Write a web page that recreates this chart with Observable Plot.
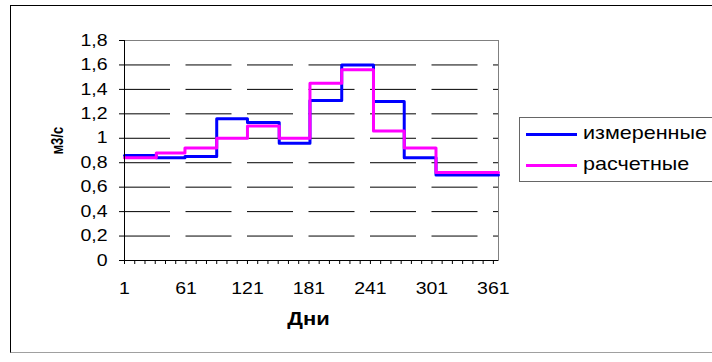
<!DOCTYPE html>
<html>
<head>
<meta charset="utf-8">
<script src="https://cdn.jsdelivr.net/npm/d3@7"></script>
<script src="https://cdn.jsdelivr.net/npm/@observablehq/plot@0.6"></script>
<style>
  body { margin: 0; background: #fff; font-family: "Liberation Sans", Arial, sans-serif; }
  #wrap { position: relative; width: 712px; height: 362px; overflow: hidden; }
  #border { position: absolute; left: 10px; top: 5px; width: 740px; height: 346px;
            border-top: 1px solid #000; border-left: 1px solid #000; border-bottom: 1px solid #a0a0a0; }
  #chart { position: absolute; left: 0; top: 0; }
  #legend { position: absolute; left: 519px; top: 117px; width: 240px; height: 63px;
            border: 1px solid #666; background: #fff; }
  .row { position: absolute; left: 0; height: 20px; }
  .swatch { position: absolute; left: 6px; width: 51px; height: 3px; }
  .label { position: absolute; left: 63px; font-size: 19px; line-height: 20px;
           white-space: nowrap; color: #000; transform-origin: 0 50%; }
</style>
</head>
<body>
<div id="wrap">
  <div id="border"></div>
  <div id="chart"></div>
  <div id="legend"></div>
</div>
<script>
// Monthly mean discharge over one year (m³/s), days 1–365
const monthStart = [1, 32, 60, 91, 121, 152, 182, 213, 244, 274, 305, 335];
const yearEnd = 366;
const measured = [0.86, 0.84, 0.85, 1.16, 1.13, 0.96, 1.31, 1.60, 1.30, 0.84, 0.70, 0.70];
const computed = [0.84, 0.88, 0.92, 1.00, 1.10, 1.00, 1.45, 1.56, 1.06, 0.92, 0.72, 0.72];
const seriesNames = ["измеренные", "расчетные"];
const seriesColors = ["#0000ff", "#ff00ff"];
const dayTicks = [1, 61, 121, 181, 241, 301, 361];
const flowTicks = [0, 0.2, 0.4, 0.6, 0.8, 1, 1.2, 1.4, 1.6, 1.8];
const yLabel = "м3/с";
const xLabel = "Дни";

// each monthly value holds until the next month starts
const steps = vals => monthStart.map((d, i) => ({day: d, q: vals[i]}))
  .concat([{day: yearEnd, q: vals[vals.length - 1]}]);

const fmt = d => String(Math.round(d * 10) / 10).replace(".", ",");
const minorTicks = d3.range(1, yearEnd + 1, 10);
const gridTicks = flowTicks.filter(v => v > 0 && v < 1.8);

const chart = Plot.plot({
  width: 712,
  height: 362,
  marginLeft: 124,
  marginRight: 214,
  marginTop: 40,
  marginBottom: 102,
  x: {domain: [1, yearEnd]},
  y: {domain: [0, 1.8]},
  style: {fontFamily: "'Liberation Sans', Arial, sans-serif", fontSize: "16px", background: "transparent", color: "#000"},
  marks: [
    Plot.ruleY(gridTicks, {stroke: "#000", strokeWidth: 1, strokeDasharray: "46,15.5"}),
    Plot.frame({stroke: "#808080"}),
    Plot.line(steps(measured), {x: "day", y: "q", curve: "step-after", stroke: seriesColors[0], strokeWidth: 3}),
    Plot.line(steps(computed), {x: "day", y: "q", curve: "step-after", stroke: seriesColors[1], strokeWidth: 3}),
    Plot.ruleX([1], {stroke: "#000"}),
    Plot.ruleY([0], {stroke: "#000"}),
    Plot.axisY({ticks: flowTicks, tickSize: 5, tickPadding: 12, tickFormat: fmt, label: null, stroke: "#000", fontSize: 16}),
    Plot.axisX({ticks: minorTicks, tickSize: 4, tickFormat: () => "", label: null, stroke: "#000"}),
    Plot.axisX({ticks: dayTicks, tickSize: 0, tickPadding: 22, tickFormat: d => String(d), label: null, fontSize: 16}),
    Plot.text([xLabel], {frameAnchor: "bottom", dx: -3, dy: 64, fontWeight: "bold", fontSize: 18}),
    Plot.text([yLabel], {frameAnchor: "left", dx: -67, dy: 4, rotate: -90, fontWeight: "bold", fontSize: 13})
  ]
});

// the chart's lettering is set wide: stretch every label horizontally about its anchor
const widen = "scale(1.22,1)";
chart.querySelectorAll("text").forEach(t => {
  let tr = t.getAttribute("transform");
  if (!tr) {
    const x = +(t.getAttribute("x") || 0), y = +(t.getAttribute("y") || 0);
    t.removeAttribute("x"); t.removeAttribute("y");
    tr = `translate(${x},${y})`;
  }
  tr = tr.includes("rotate") ? tr.replace("rotate", widen + " rotate") : tr + " " + widen;
  t.setAttribute("transform", tr);
});
document.getElementById("chart").appendChild(chart);

// legend: entries share one horizontal stretch so the longer name spans 124px
const legend = document.getElementById("legend");
const labels = seriesNames.map((name, i) => {
  const row = document.createElement("div");
  row.className = "row";
  row.style.top = (6 + i * 31) + "px";
  const sw = document.createElement("div");
  sw.className = "swatch";
  sw.style.background = seriesColors[i];
  sw.style.top = "9px";
  const lb = document.createElement("div");
  lb.className = "label";
  lb.style.top = "-1px";
  lb.textContent = name;
  row.appendChild(sw);
  row.appendChild(lb);
  legend.appendChild(row);
  return lb;
});
const widest = Math.max(...labels.map(l => l.getBoundingClientRect().width));
const k = 124 / widest;
labels.forEach(l => { l.style.transform = `scaleX(${k})`; });
</script>
</body>
</html>
